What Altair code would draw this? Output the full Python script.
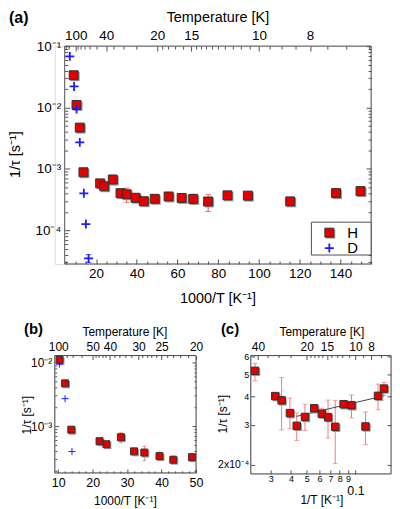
import altair as alt
import pandas as pd

FONT = "Liberation Sans"
RED = "#e30000"
BLUE = "#1a1aff"
ERR_A = "#e84a4a"
ERR_C = "#f07a7a"
FRAME = "#505050"
PLUS = "M-1,0L1,0M0,-1L0,1"

h_inv = [9.0, 10.4, 12.0, 13.8, 22.0, 24.0, 28.2, 32.0, 35.0, 39.4, 43.4,
         48.8, 55.6, 62.0, 67.7, 75.0, 84.5, 94.5, 115.3, 137.8, 149.8]
h_rate = [0.0335, 0.011, 0.0047, 0.00088, 0.00058, 0.00052, 0.00067, 0.000402,
          0.000385, 0.000338, 0.000297, 0.000325, 0.000355, 0.000336, 0.000324,
          0.000294, 0.00037, 0.000366, 0.000295, 0.000403, 0.000434]
h_lo = [0.0335, 0.011, 0.0047, 0.00088, 0.00054, 0.00047, 0.00055, 0.00039,
        0.000285, 0.000288, 0.000256, 0.000283, 0.000348, 0.000322, 0.000262,
        0.000202, 0.000356, 0.000322, 0.000245, 0.00035, 0.000404]
h_hi = [0.0335, 0.011, 0.0047, 0.00088, 0.00062, 0.00056, 0.00079, 0.00041,
        0.000486, 0.000394, 0.000339, 0.00037, 0.000369, 0.000355, 0.000386,
        0.000385, 0.000385, 0.000407, 0.000342, 0.000454, 0.000462]
d_inv = [7.1, 9.2, 10.4, 12.0, 14.0, 15.0, 16.3]
d_rate = [0.068, 0.022, 0.0094, 0.0027, 0.0004, 0.000126, 0.0000347]
d_lo = [0.068, 0.022, 0.0094, 0.0027, 0.0004, 0.000126, 0.0000300]
d_hi = [0.068, 0.022, 0.0094, 0.0027, 0.0004, 0.000126, 0.0000400]
fit_invT = [0.0433, 0.150]
fit_rate = [0.000327, 0.000403]

series_names = ["H", "D"]

a_x_major = [20, 40, 60, 80, 100, 120, 140]
a_x_minor = [5, 10, 15, 25, 30, 35, 45, 50, 55, 65, 70, 75, 85, 90, 95, 105,
             110, 115, 125, 130, 135, 145, 150, 155]
a_T_major = [100, 40, 20, 15, 10, 8]
a_T_minor = [200, 150, 90, 80, 70, 60, 50, 35, 30, 25, 19, 18, 17, 16, 14.5, 14,
             13.5, 13, 12.5, 12, 11.5, 11, 10.5, 9.5, 9, 8.5, 7.5, 7, 6.5]
a_y_major = [0.1, 0.01, 0.001, 0.0001]
a_y_minor = [0.09, 0.08, 0.07, 0.06, 0.05, 0.04, 0.03, 0.02,
             0.009, 0.008, 0.007, 0.006, 0.005, 0.004, 0.003, 0.002,
             0.0009, 0.0008, 0.0007, 0.0006, 0.0005, 0.0004, 0.0003, 0.0002,
             0.00009, 0.00008, 0.00007, 0.00006, 0.00005, 0.00004, 0.00003]

b_x_major = [10, 20, 30, 40, 50]
b_x_minor = [12, 14, 16, 18, 22, 24, 26, 28, 32, 34, 36, 38, 42, 44, 46, 48]
b_T_major = [100, 50, 40, 30, 25, 20]
b_T_minor = [90, 80, 70, 60, 48, 46, 44, 42, 38, 36, 34, 32, 29, 28, 27, 26,
             24, 23, 22, 21]
b_y_major = [0.01, 0.001]
b_y_minor = [0.009, 0.008, 0.007, 0.006, 0.005, 0.004, 0.003, 0.002,
             0.0009, 0.0008, 0.0007, 0.0006, 0.0005, 0.0004, 0.0003, 0.0002]

c_x_small = [0.03, 0.04, 0.05, 0.06, 0.07, 0.08, 0.09]
c_x_big = [0.1]
c_T_major = [40, 20, 15, 10, 8, 6]
c_T_minor = [35, 30, 25, 19, 18, 17, 16, 14, 13, 12, 11, 9, 7]
c_y_small = [0.0003, 0.0004, 0.0005, 0.0006]
c_y_big = [0.0002]
c_y_all = [0.0002, 0.0003, 0.0004, 0.0005, 0.0006]

LOG_EXPR = ("datum.value > 0.05 ? '10⁻¹' : datum.value > 0.005 ? '10⁻²' : "
            "datum.value > 0.0005 ? '10⁻³' : '10⁻⁴'")
TITLE_T = "Temperature [K]"
TITLE_Y = "1/τ [s⁻¹]"
TITLE_X = "1000/T [K⁻¹]"
TITLE_XC = "1/T [K⁻¹]"

dfH = pd.DataFrame({"inv": h_inv, "rate": h_rate, "lo": h_lo, "hi": h_hi})
dfH["series"] = "H"
dfD = pd.DataFrame({"inv": d_inv, "rate": d_rate, "lo": d_lo, "hi": d_hi})
dfD["series"] = "D"
dfAll = pd.concat([dfH, dfD], ignore_index=True)
dfAll["invT"] = dfAll["inv"] / 1000.0
dfFit = pd.DataFrame({"invT": fit_invT, "rate": fit_rate})


def in_dom(df, xf, xd, yd):
    m = (df[xf] >= xd[0]) & (df[xf] <= xd[1]) & (df["rate"] >= yd[0]) & (df["rate"] <= yd[1])
    return df[m].reset_index(drop=True)


def axis(orient, values, ts, extra=0, **kw):
    d = dict(orient=orient, values=values, tickSize=ts, offset=-(ts + extra),
             domain=False, grid=False, ticks=True, tickColor=FRAME, tickWidth=1,
             labels=False, labelOverlap=False, labelFlush=False, labelFont=FONT,
             labelColor="black", title=None, minExtent=0)
    d.update(kw)
    return alt.Axis(**d)


def carrier(xd, yd, sx, sy, xaxis=None, yaxis=None):
    corners = pd.DataFrame({"cx": xd, "cy": yd})
    return alt.Chart(corners).mark_point(opacity=0, size=1, strokeWidth=0).encode(
        x=alt.X("cx:Q", scale=sx, axis=xaxis),
        y=alt.Y("cy:Q", scale=sy, axis=yaxis))


def one_row():
    return alt.Chart(pd.DataFrame({"f": [0]}))


def txt(s, x, y, size, angle=0, align="center", baseline="middle", weight="normal"):
    return one_row().mark_text(text=s, align=align, baseline=baseline, font=FONT, fontSize=size,
                               fontWeight=weight, angle=angle, color="black").encode(
        x=alt.value(x), y=alt.value(y))


def frame(x0, w, h):
    return one_row().mark_rect(filled=False, color=FRAME, strokeWidth=1).encode(
        x=alt.value(x0), x2=alt.value(w), y=alt.value(0), y2=alt.value(h))


def errors(df, xf, sx, sy, color, cap):
    out = []
    for s, col in (("H", color), ("D", BLUE)):
        d = df[(df["hi"] > df["lo"]) & (df["series"] == s)].reset_index(drop=True)
        if len(d) == 0:
            continue
        x = alt.X(xf + ":Q", scale=sx, axis=None)
        out.append(alt.Chart(d).mark_rule(color=col, strokeWidth=1).encode(
            x=x, y=alt.Y("lo:Q", scale=sy, axis=None), y2="hi:Q"))
        for f in ("lo", "hi"):
            out.append(alt.Chart(d).mark_tick(orient="horizontal", size=cap, thickness=1, color=col).encode(
                x=x, y=alt.Y(f + ":Q", scale=sy, axis=None)))
    return out


def points(df, xf, sx, sy, size, swd):
    x = alt.X(xf + ":Q", scale=sx, axis=None)
    y = alt.Y("rate:Q", scale=sy, axis=None)
    out = [alt.Chart(df[df["series"] == "H"]).mark_square(
        size=size * 1.1, color="#9c9c9c", opacity=1, xOffset=1.3, yOffset=1.3).encode(x=x, y=y)]
    out.append(alt.Chart(df).mark_point(size=size, opacity=1, filled=True).encode(
        x=x, y=y,
        shape=alt.Shape("series:N", scale=alt.Scale(domain=series_names, range=["square", PLUS]), legend=None),
        fill=alt.Fill("series:N", scale=alt.Scale(domain=series_names, range=[RED, "transparent"]), legend=None),
        stroke=alt.Stroke("series:N", scale=alt.Scale(domain=series_names, range=["#303030", BLUE]), legend=None),
        strokeWidth=alt.StrokeWidth("series:N", scale=alt.Scale(domain=series_names, range=[1, swd]), legend=None)))
    return out


def legend_box(x0, y0, w, h, size):
    sx_, sy1, sy2, tx = x0 + 18, y0 + 10.5, y0 + 26, x0 + 36
    return [
        one_row().mark_rect(fill="white", stroke=FRAME, strokeWidth=1).encode(
            x=alt.value(x0), x2=alt.value(x0 + w), y=alt.value(y0), y2=alt.value(y0 + h)),
        one_row().mark_square(size=size * 1.1, color="#9c9c9c", opacity=1).encode(
            x=alt.value(sx_ + 1.3), y=alt.value(sy1 + 1.3)),
        one_row().mark_point(shape="square", size=size, filled=True, fill=RED, stroke="#303030",
                             strokeWidth=1, opacity=1).encode(x=alt.value(sx_), y=alt.value(sy1)),
        one_row().mark_point(shape=PLUS, size=size, filled=False, stroke=BLUE, strokeWidth=1.8,
                             opacity=1).encode(x=alt.value(sx_), y=alt.value(sy2)),
        txt(series_names[0], tx, sy1, 15, align="left"),
        txt(series_names[1], tx, sy2, 15, align="left"),
    ]


# ---------------- (a) ----------------
A_W, A_H, A_X0 = 318, 219, 10
a_xd = [4.6, 155.0]
a_yd = [2.82e-5, 0.1]
a_sx = alt.Scale(type="linear", domain=a_xd, range=[A_X0, A_W], nice=False, zero=False)
a_sy = alt.Scale(type="log", domain=a_yd, nice=False)
LA, TA = 13.5, 14.5
a_layers = [
    frame(A_X0, A_W, A_H),
    carrier(a_xd, a_yd, a_sx, a_sy, xaxis=axis("bottom", a_x_major, 5, labels=True, labelFontSize=LA,
                                                labelPadding=3)),
    carrier(a_xd, a_yd, a_sx, a_sy, xaxis=axis("bottom", a_x_minor, 3)),
    carrier(a_xd, a_yd, a_sx, a_sy, xaxis=axis("top", [1000 / t for t in a_T_major], 5, labels=True,
                                                labelExpr="round(1000/datum.value)", labelFontSize=LA,
                                                labelPadding=4)),
    carrier(a_xd, a_yd, a_sx, a_sy, xaxis=axis("top", [1000 / t for t in a_T_minor], 3)),
    carrier(a_xd, a_yd, a_sx, a_sy, yaxis=axis("left", a_y_major, 5, extra=A_X0, labels=True,
                                                labelExpr=LOG_EXPR, labelFontSize=LA, labelPadding=4)),
    carrier(a_xd, a_yd, a_sx, a_sy, yaxis=axis("left", a_y_minor, 3, extra=A_X0)),
    carrier(a_xd, a_yd, a_sx, a_sy, yaxis=axis("right", a_y_major, 5)),
    carrier(a_xd, a_yd, a_sx, a_sy, yaxis=axis("right", a_y_minor, 3)),
]
a_layers += errors(dfAll, "inv", a_sx, a_sy, ERR_A, 6)
a_layers += points(dfAll, "inv", a_sx, a_sy, 81, 1.8)
a_layers += legend_box(258, 177, 60, 33, 81)
a_layers += [
    txt("(a)", -46, -23, 16, align="left", baseline="alphabetic", weight="bold"),
    txt(TITLE_T, 164, -28, TA),
    txt(TITLE_X, 164, 254, TA),
    txt(TITLE_Y, -38.5, 109, TA, angle=270),
]
chart_a = alt.layer(*a_layers).properties(width=A_W, height=A_H).resolve_axis(x="independent", y="independent")

# ---------------- (b) ----------------
B_W, B_H = 142, 118
b_xd = [9.0, 50.0]
b_yd = [1.845e-4, 0.012865]
b_sx = alt.Scale(type="linear", domain=b_xd, nice=False, zero=False)
b_sy = alt.Scale(type="log", domain=b_yd, nice=False)
LB, TB = 12, 12
dfB = in_dom(dfAll, "inv", b_xd, b_yd)
b_layers = [
    frame(0, B_W, B_H),
    carrier(b_xd, b_yd, b_sx, b_sy, xaxis=axis("bottom", b_x_major, 4, labels=True, labelFontSize=12.5,
                                                labelPadding=4)),
    carrier(b_xd, b_yd, b_sx, b_sy, xaxis=axis("bottom", b_x_minor, 2)),
    carrier(b_xd, b_yd, b_sx, b_sy, xaxis=axis("top", [1000 / t for t in b_T_major], 4, labels=True,
                                                labelExpr="round(1000/datum.value)", labelFontSize=LB,
                                                labelPadding=2)),
    carrier(b_xd, b_yd, b_sx, b_sy, xaxis=axis("top", [1000 / t for t in b_T_minor], 2)),
    carrier(b_xd, b_yd, b_sx, b_sy, yaxis=axis("left", b_y_major, 4, labels=True, labelExpr=LOG_EXPR,
                                                labelFontSize=12, labelPadding=3)),
    carrier(b_xd, b_yd, b_sx, b_sy, yaxis=axis("left", b_y_minor, 2)),
    carrier(b_xd, b_yd, b_sx, b_sy, yaxis=axis("right", b_y_major, 4)),
    carrier(b_xd, b_yd, b_sx, b_sy, yaxis=axis("right", b_y_minor, 2)),
]
b_layers += errors(dfB, "inv", b_sx, b_sy, ERR_C, 4)
b_layers += points(dfB, "inv", b_sx, b_sy, 49, 1.0)
b_layers += [
    txt("(b)", -31, -22, 15, align="left", baseline="alphabetic", weight="bold"),
    txt(TITLE_T, 70.5, -24, TB),
    txt(TITLE_X, 71, 146, TB),
    txt(TITLE_Y, -27.5, 60, TB, angle=270),
]
chart_b = alt.layer(*b_layers).properties(width=B_W, height=B_H).resolve_axis(x="independent", y="independent")

# ---------------- (c) ----------------
C_W, C_H = 141, 119
c_xd = [0.02257, 0.1657]
c_yd = [1.82e-4, 6.08e-4]
c_sx = alt.Scale(type="log", domain=c_xd, nice=False)
c_sy = alt.Scale(type="log", domain=c_yd, nice=False)
dfC = in_dom(dfAll[dfAll["series"] == "H"], "invT", c_xd, c_yd)
c_layers = [
    frame(0, C_W, C_H),
    carrier(c_xd, c_yd, c_sx, c_sy, xaxis=axis("bottom", c_x_small, 4, labels=True,
                                                labelExpr="round(datum.value*100)", labelFontSize=9,
                                                labelPadding=1)),
    carrier(c_xd, c_yd, c_sx, c_sy, xaxis=axis("bottom", c_x_big, 4, labels=True, labelExpr="'0.1'",
                                                labelFontSize=12.5, labelPadding=11)),
    carrier(c_xd, c_yd, c_sx, c_sy, xaxis=axis("top", [1 / t for t in c_T_major], 4, labels=True,
                                                labelExpr="round(1/datum.value)", labelFontSize=LB,
                                                labelPadding=2, labelFlush=True)),
    carrier(c_xd, c_yd, c_sx, c_sy, xaxis=axis("top", [1 / t for t in c_T_minor], 2)),
    carrier(c_xd, c_yd, c_sx, c_sy, yaxis=axis("left", c_y_small, 4, labels=True,
                                                labelExpr="round(datum.value*10000)", labelFontSize=9,
                                                labelPadding=2)),
    carrier(c_xd, c_yd, c_sx, c_sy, yaxis=axis("left", c_y_big, 4, labels=True, labelExpr="'2x10⁻⁴'",
                                                labelFontSize=10.5, labelPadding=2)),
    carrier(c_xd, c_yd, c_sx, c_sy, yaxis=axis("right", c_y_all, 4)),
]
c_layers += errors(dfC, "invT", c_sx, c_sy, ERR_C, 5)
c_layers.append(alt.Chart(dfFit).mark_line(color="#444444", strokeWidth=1).encode(
    x=alt.X("invT:Q", scale=c_sx, axis=None), y=alt.Y("rate:Q", scale=c_sy, axis=None)))
c_layers += points(dfC, "invT", c_sx, c_sy, 56, 1.0)
c_layers += [
    txt("(c)", -30, -22, 15, align="left", baseline="alphabetic", weight="bold"),
    txt(TITLE_T, 71.5, -24, TB),
    txt(TITLE_XC, 71.5, 145, TB),
    txt(TITLE_Y, -28, 59, TB, angle=270),
]
chart_c = alt.layer(*c_layers).properties(width=C_W, height=C_H).resolve_axis(x="independent", y="independent")

IND = dict(shape="independent", fill="independent", stroke="independent", strokeWidth="independent")
chart = alt.vconcat(
    chart_a,
    alt.hconcat(chart_b, chart_c, spacing=12).resolve_scale(**IND),
    spacing=15,
).resolve_scale(**IND).properties(padding=0).configure_view(stroke=None).configure(font=FONT)

chart.save("out.html", embed_options={"renderer": "svg", "actions": False})
